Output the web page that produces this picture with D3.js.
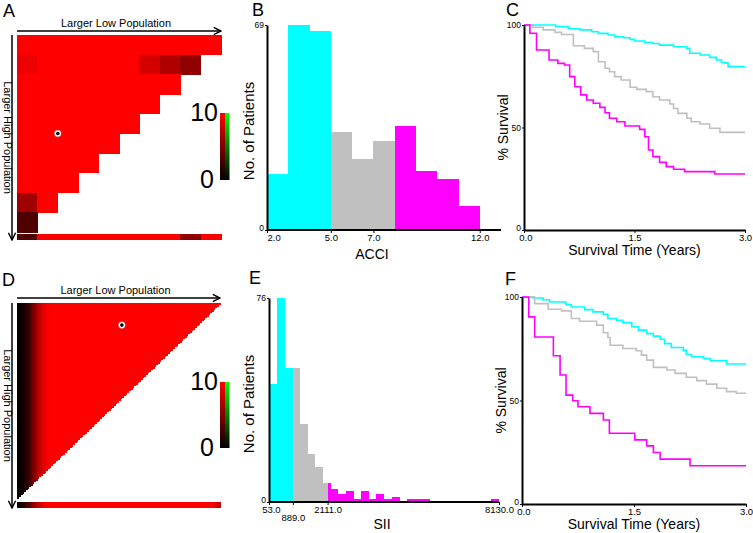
<!DOCTYPE html>
<html>
<head>
<meta charset="utf-8">
<script src="https://cdn.jsdelivr.net/npm/d3@7"></script>
<style>
  body { margin: 0; background: #fff; }
  svg { font-family: "Liberation Sans", Arial, sans-serif; }
</style>
</head>
<body>
<div id="fig"></div>
<script>
// ---------- data ----------
// panel A: 10x10 triangular heat map (no. of patients, 0-10)
const accHeatRows = [
  [10, 10, 10, 10, 10, 10, 10, 10, 10, 10],
  [9.3, 10, 10, 10, 10, 10, 8.3, 6.9, 5.6],
  [10, 10, 10, 10, 10, 10, 10, 10],
  [10, 10, 10, 10, 10, 10, 10],
  [10, 10, 10, 10, 10, 10],
  [10, 10, 10, 10, 10],
  [10, 10, 10, 10],
  [10, 10, 10],
  [6.3, 10],
  [3.1]
];
const accStrip = [3.1, 10, 10, 10, 10, 10, 10, 10, 5.6, 10];
const accDot = [2, 5];

// panel D: fine triangular map, 120 x 120 cells; dark only in the first columns
const siiGridSize = 120;
const siiColShade = [0, 0.2, 0.4, 0.7, 1.0, 1.4, 2.0, 2.8, 3.6, 4.5, 5.4, 6.2, 7.0, 7.7, 8.3, 8.8, 9.2, 9.5, 9.8, 9.9]; // rest saturated (10)
const siiStripStart = [0, 0.3, 0.6, 1.0, 1.5, 2.2, 3.0, 3.8, 4.6, 5.4, 6.2, 7.0, 7.6, 8.2, 8.7, 9.1, 9.5, 9.8, 9.9];
const siiStripEnd = [8.5, 6.5, 8.0];
const siiDot = [62, 13.6];

// panel B: ACCI histogram
const acciBins = [2, 3, 4, 5, 6, 7, 8, 9, 10, 11];
const acciCounts = [19, 69, 67, 33, 24, 30, 35, 20, 17, 8];
const acciCuts = [5, 8];
const acciTicks = [2, 5, 7, 12];

// panel E: SII histogram, 30 equal bins between 53 and 8130
const siiRange = [53, 8130];
const siiCounts = [44, 76, 50, 50, 29, 18, 13, 7, 5, 3, 4, 1, 4, 1, 3, 1, 2, 0, 1, 1, 1, 0, 0, 0, 0, 0, 0, 0, 0, 1];
const siiCuts = [889, 2111];
const siiTicks = [53, 889, 2111, 8130];

// panel C: survival by ACCI group
const cLowT = [0, 0.43, 0.6, 0.76, 0.92, 1.01, 1.14, 1.23, 1.35, 1.44, 1.5, 1.64, 1.75, 1.84, 2.03, 2.21, 2.25, 2.39, 2.52, 2.61, 2.68, 2.77, 3.0];
const cLowS = [100, 99.2, 98.2, 97.6, 96.7, 95.9, 95.1, 94.3, 93.8, 93, 92.2, 91.5, 91, 90.2, 89.4, 88.6, 86.2, 85.4, 84.2, 82.9, 81.6, 79.7, 79.7];
const cMidT = [0, 0.12, 0.26, 0.42, 0.51, 0.67, 0.82, 0.94, 1.01, 1.1, 1.16, 1.23, 1.32, 1.44, 1.53, 1.66, 1.75, 1.84, 1.98, 2.03, 2.09, 2.21, 2.27, 2.39, 2.52, 2.66, 3.0];
const cMidS = [100, 98.9, 97.6, 96.4, 95.4, 89.9, 88.6, 87, 82.1, 78.9, 77.2, 74.8, 73.2, 69.6, 68.6, 67.5, 65, 63.4, 61.5, 59.3, 56.9, 54.5, 52.8, 51.7, 49.6, 47.6, 47.6];
const cHighT = [0, 0.08, 0.17, 0.34, 0.46, 0.55, 0.62, 0.69, 0.77, 0.85, 0.94, 1.03, 1.1, 1.16, 1.26, 1.37, 1.57, 1.64, 1.69, 1.75, 1.84, 1.93, 2.03, 2.18, 2.59, 3.0];
const cHighS = [100, 96, 87.8, 82.9, 81.3, 80.5, 74.8, 69.9, 65.9, 63.4, 61.8, 59.8, 57.2, 54.5, 52.8, 50.7, 49.1, 45.5, 39, 35.8, 33, 30.9, 29.6, 28.5, 27.3, 27.3];

// panel F: survival by SII group
const fLowT = [0, 0.15, 0.28, 0.37, 0.59, 0.66, 0.84, 0.95, 1.09, 1.15, 1.27, 1.35, 1.47, 1.56, 1.67, 1.76, 1.85, 1.91, 2.0, 2.16, 2.2, 2.27, 2.43, 2.52, 2.74, 3.0];
const fLowS = [100, 99.5, 98.7, 97.6, 96.3, 95.2, 93.9, 92.8, 91.7, 89.6, 88.8, 87.6, 85.6, 84, 82.3, 81.1, 79.6, 77.5, 75.6, 74.3, 72.2, 71.1, 70.3, 69.2, 67.6, 67.6];
const fMidT = [0, 0.17, 0.35, 0.53, 0.66, 0.77, 1.0, 1.09, 1.15, 1.18, 1.35, 1.53, 1.6, 1.67, 1.76, 1.94, 2.05, 2.2, 2.34, 2.47, 2.61, 2.74, 2.87, 3.0];
const fMidS = [100, 96.8, 94.1, 93.3, 89.6, 88.3, 86.4, 82.7, 80.4, 76.7, 75.1, 74, 71.9, 69.5, 66, 64.7, 63.1, 61.2, 59.6, 57.9, 55.9, 54.3, 53.5, 53.5];
const fHighT = [0, 0.09, 0.17, 0.42, 0.51, 0.59, 0.68, 0.75, 0.91, 1.09, 1.17, 1.51, 1.67, 1.76, 1.85, 2.25, 3.0];
const fHighS = [100, 90.4, 80.7, 71.6, 62.3, 52.6, 49.9, 47, 43.8, 40.6, 34.2, 31, 28.1, 24.9, 21.7, 18.5, 18.5];

const groupColors = ["#00ffff", "#c0c0c0", "#ff00ff"];

// ---------- setup ----------
const width = 753, height = 533;
const svg = d3.select("#fig").append("svg").attr("width", width).attr("height", height);
const defs = svg.append("defs");

defs.append("marker").attr("id", "arrow")
  .attr("viewBox", "0 0 10 10").attr("refX", 9).attr("refY", 5)
  .attr("markerWidth", 6).attr("markerHeight", 6).attr("orient", "auto")
  .append("path").attr("d", "M1,1 L9,5 L1,9").attr("fill", "none").attr("stroke", "#000").attr("stroke-width", 1.6);

const redGrad = defs.append("linearGradient").attr("id", "gRed").attr("x1", 0).attr("y1", 0).attr("x2", 0).attr("y2", 1);
redGrad.append("stop").attr("offset", "0%").attr("stop-color", "#ff0000");
redGrad.append("stop").attr("offset", "100%").attr("stop-color", "#000");
const greenGrad = defs.append("linearGradient").attr("id", "gGreen").attr("x1", 0).attr("y1", 0).attr("x2", 0).attr("y2", 1);
greenGrad.append("stop").attr("offset", "0%").attr("stop-color", "#00ff00");
greenGrad.append("stop").attr("offset", "100%").attr("stop-color", "#000");

const heatColor = d3.scaleLinear().domain([0, 10]).range(["#000000", "#ff0000"]).clamp(true);

function panelLetter(t, x, y) {
  svg.append("text").attr("x", x).attr("y", y).attr("font-size", 18).text(t);
}

// ---------- heat map panels (A, D) ----------
function drawHeat(p, rows, strip, dot) {
  const n = rows.length;
  const g = svg.append("g").attr("shape-rendering", "crispEdges");
  const x = d3.scaleBand().domain(d3.range(n)).range([p.x0, p.x1]);
  const y = d3.scaleBand().domain(d3.range(n)).range([p.y0, p.y1]);
  const cells = rows.flatMap((r, i) => r.map((v, j) => ({i, j, v})));
  g.selectAll(null).data(cells).join("rect")
    .attr("x", d => x(d.j)).attr("y", d => y(d.i))
    .attr("width", x.bandwidth() + 0.5).attr("height", y.bandwidth() + 0.5)
    .attr("fill", d => heatColor(d.v));
  g.selectAll(null).data(strip).join("rect")
    .attr("x", (d, j) => x(j)).attr("y", p.sy0)
    .attr("width", x.bandwidth() + 0.5).attr("height", p.sy1 - p.sy0)
    .attr("fill", d => heatColor(d));

  const xl = d3.scaleLinear([0, n], [p.x0, p.x1]);
  const yl = d3.scaleLinear([0, n], [p.y0, p.y1]);
  svg.append("circle").attr("cx", xl(dot[0])).attr("cy", yl(dot[1])).attr("r", 3.3)
    .attr("fill", "#fff").attr("stroke", "#aaa").attr("stroke-width", 0.6);
  svg.append("circle").attr("cx", xl(dot[0])).attr("cy", yl(dot[1])).attr("r", 1.8).attr("fill", "#000");

  // arrows + labels
  svg.append("line").attr("x1", p.x0).attr("x2", p.x1).attr("y1", p.ay).attr("y2", p.ay)
    .attr("stroke", "#000").attr("stroke-width", 1.5).attr("marker-end", "url(#arrow)");
  svg.append("line").attr("x1", p.ax).attr("x2", p.ax).attr("y1", p.y0).attr("y2", p.sy1)
    .attr("stroke", "#000").attr("stroke-width", 1.5).attr("marker-end", "url(#arrow)");
  svg.append("text").attr("x", (p.x0 + p.x1) / 2 - 3).attr("y", p.ay - 4)
    .attr("text-anchor", "middle").attr("font-size", 11).text("Larger Low Population");
  svg.append("text").attr("transform", `translate(${p.ax - 8},${(p.y0 + p.sy1) / 2}) rotate(90)`)
    .attr("text-anchor", "middle").attr("font-size", 11).text("Larger High Population");

  // colour bar
  svg.append("rect").attr("x", p.cx).attr("y", p.cy0).attr("width", 5).attr("height", p.cy1 - p.cy0).attr("fill", "url(#gRed)");
  svg.append("rect").attr("x", p.cx + 5).attr("y", p.cy0).attr("width", 4.5).attr("height", p.cy1 - p.cy0).attr("fill", "url(#gGreen)");
  svg.append("text").attr("x", p.cx - 2).attr("y", p.cy0 + 8).attr("text-anchor", "end").attr("font-size", 25).text("10");
  svg.append("text").attr("x", p.cx - 6).attr("y", p.cy1 + 8).attr("text-anchor", "end").attr("font-size", 25).text("0");
}

const panelA = {x0: 17, x1: 221, y0: 35, y1: 232, sy0: 234, sy1: 240, ay: 31, ax: 12, cx: 220, cy0: 113, cy1: 180};
drawHeat(panelA, accHeatRows, accStrip, accDot);

// panel D rows built from the column shades (upper-left triangle)
const siiHeatRows = d3.range(siiGridSize).map(i =>
  d3.range(siiGridSize - i).map(j => j < siiColShade.length ? siiColShade[j] : 10));
const siiStrip = d3.range(siiGridSize).map(j => {
  if (j < siiStripStart.length) return siiStripStart[j];
  const k = j - (siiGridSize - siiStripEnd.length);
  return k >= 0 ? siiStripEnd[k] : 10;
});
const panelD = {x0: 17, x1: 220, y0: 303, y1: 498, sy0: 502, sy1: 508, ay: 298, ax: 12, cx: 220, cy0: 382, cy1: 448};
drawHeat(panelD, siiHeatRows, siiStrip, siiDot);

panelLetter("A", 3, 17);
panelLetter("D", 2, 286);

// ---------- axes helper ----------
function styleAxis(a, fs) {
  a.attr("font-family", null).attr("font-size", fs);
  a.select(".domain").attr("stroke-width", 2);
  a.selectAll(".tick line").attr("stroke-width", 1);
}
// lift the "0" label of a y axis a little so it clears the x labels
function liftZero(a) {
  a.selectAll(".tick text").filter(d => d === 0).attr("dy", "0.1em");
}

// ---------- histograms (B, E) ----------
function drawHist(p, edges, counts, cuts, ticks, yMax) {
  const x = d3.scaleLinear().domain(p.xd).range([p.x0, p.x1]);
  const y = d3.scaleLinear().domain([0, yMax]).range([p.y0, p.y1]);
  const bounds = [p.xd[0], ...cuts, Infinity];
  const segs = [];
  counts.forEach((c, i) => {
    const a = edges[i], b = edges[i + 1];
    for (let k = 0; k < 3; k++) {
      const s = Math.max(a, bounds[k]), e = Math.min(b, bounds[k + 1]);
      if (e > s && c > 0) segs.push({s, e, c, k});
    }
  });
  svg.append("g").attr("shape-rendering", "crispEdges")
    .selectAll(null).data(segs).join("rect")
    .attr("x", d => x(d.s)).attr("width", d => x(d.e) - x(d.s) + 0.3)
    .attr("y", d => y(d.c)).attr("height", d => y(0) - y(d.c))
    .attr("fill", d => groupColors[d.k]);

  const ay = svg.append("g").attr("transform", `translate(${p.x0},0)`)
    .call(d3.axisLeft(y).tickValues([0, yMax]).tickSize(2).tickPadding(1).tickSizeOuter(0));
  styleAxis(ay, 8.5);
  liftZero(ay);
  const ax = svg.append("g").attr("transform", `translate(0,${p.y0})`)
    .call(d3.axisBottom(x).tickValues(ticks).tickFormat(d3.format(".1f")).tickSize(3).tickPadding(1.5).tickSizeOuter(0));
  styleAxis(ax, 9.5);
  ax.select(".domain").attr("d", `M${p.x0},0H${p.xEnd}`);
  return ax;
}

// B
const acciEdges = [...acciBins, acciBins[acciBins.length - 1] + 1];
const axB = drawHist({xd: [2, 13], x0: 267, x1: 501, xEnd: 501, y0: 230, y1: 25},
  acciEdges, acciCounts, acciCuts, acciTicks, 69);
axB.selectAll(".tick text").filter(d => d === 2).attr("text-anchor", "start").attr("dx", 0);
svg.append("text").attr("transform", "translate(254,131) rotate(-90)").attr("text-anchor", "middle")
  .attr("font-size", 15).text("No. of Patients");
svg.append("text").attr("x", 372).attr("y", 259).attr("text-anchor", "middle").attr("font-size", 14).text("ACCI");

// E
const siiStep = (siiRange[1] - siiRange[0]) / siiCounts.length;
const siiEdges = d3.range(siiCounts.length + 1).map(i => siiRange[0] + i * siiStep);
const axE = drawHist({xd: siiRange, x0: 269, x1: 499, xEnd: 499, y0: 502, y1: 298},
  siiEdges, siiCounts, siiCuts, siiTicks, 76);
axE.selectAll(".tick text").filter(d => d === 889).attr("dy", "1.5em");
axE.selectAll(".tick text").filter(d => d === 53).attr("dx", "0.2em");
svg.append("text").attr("transform", "translate(254,404) rotate(-90)").attr("text-anchor", "middle")
  .attr("font-size", 15).text("No. of Patients");
svg.append("text").attr("x", 382).attr("y", 529).attr("text-anchor", "middle").attr("font-size", 14).text("SII");

panelLetter("B", 252, 16);
panelLetter("E", 249, 284);

// ---------- survival panels (C, F) ----------
function drawSurv(p, curves) {
  const x = d3.scaleLinear().domain([0, 3]).range([p.x0, p.x1]);
  const y = d3.scaleLinear().domain([0, 100]).range([p.y0, p.y1]);
  const line = d3.line().x(d => x(d[0])).y(d => y(d[1])).curve(d3.curveStepAfter);
  curves.forEach((c, k) => {
    svg.append("path").datum(d3.zip(c[0], c[1])).attr("d", line)
      .attr("fill", "none").attr("stroke", groupColors[k]).attr("stroke-width", 1.6);
  });
  const ay = svg.append("g").attr("transform", `translate(${p.x0},0)`)
    .call(d3.axisLeft(y).tickValues([0, 50, 100]).tickSize(2).tickPadding(1).tickSizeOuter(0));
  styleAxis(ay, 8.5);
  liftZero(ay);
  const ax = svg.append("g").attr("transform", `translate(0,${p.y0})`)
    .call(d3.axisBottom(x).tickValues([0, 1.5, 3]).tickFormat(d3.format(".1f")).tickSize(3).tickPadding(1.5).tickSizeOuter(0));
  styleAxis(ax, 9.5);
  ax.selectAll(".tick text").filter(d => d === 0).attr("dx", "0.15em");
  svg.append("text").attr("transform", `translate(${p.x0 - 16},${(p.y0 + p.y1) / 2}) rotate(-90)`)
    .attr("text-anchor", "middle").attr("font-size", 14).text("% Survival");
  svg.append("text").attr("x", (p.x0 + p.x1) / 2).attr("y", p.y0 + 25)
    .attr("text-anchor", "middle").attr("font-size", 14).text("Survival Time (Years)");
}

drawSurv({x0: 524, x1: 745, y0: 230, y1: 25}, [[cLowT, cLowS], [cMidT, cMidS], [cHighT, cHighS]]);
drawSurv({x0: 522, x1: 746, y0: 504, y1: 297}, [[fLowT, fLowS], [fMidT, fMidS], [fHighT, fHighS]]);

panelLetter("C", 506, 16);
panelLetter("F", 505, 285);
</script>
</body>
</html>
